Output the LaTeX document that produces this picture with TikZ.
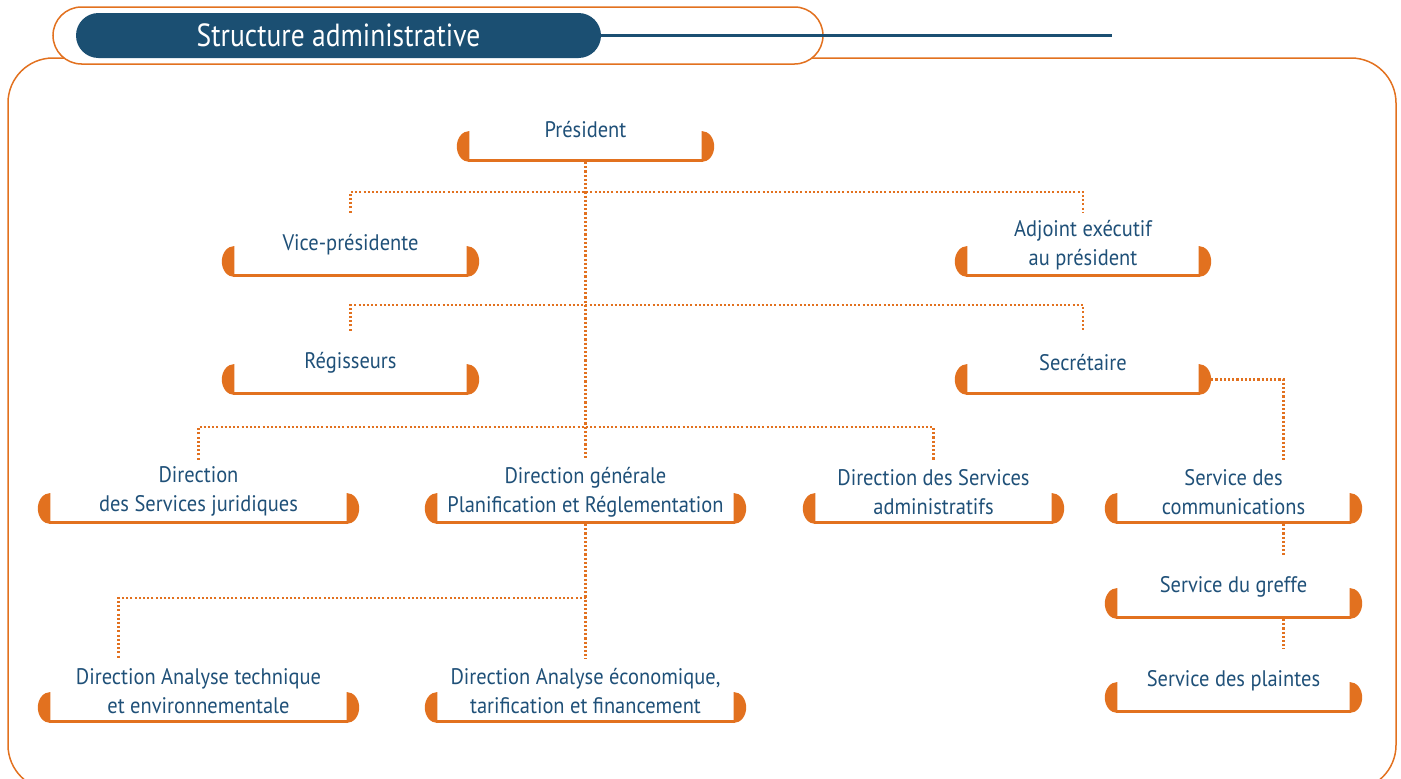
\documentclass[tikz,border=0pt]{standalone}
\usepackage{fontspec}
\setmainfont{PT Sans}[FakeStretch=0.91]
\newfontfamily\titlefont{PT Sans}[FakeStretch=0.86]
\usetikzlibrary{calc}
\definecolor{navy}{HTML}{1B4F72}
\definecolor{navytext}{HTML}{1F5078}
\definecolor{orgorange}{HTML}{E2711F}
\tikzset{
  orgbox/.style={minimum height=64pt, inner sep=0pt, anchor=south, align=center,
    text=navytext, font=\fontsize{22.5}{29}\selectfont},
  conn/.style={orgorange, line width=2.1pt, dash pattern=on 2.1pt off 2.1pt},
  capline/.style={orgorange, line width=3pt},
  frameline/.style={orgorange, line width=1.5pt},
}
\newcommand\orgnode[5]{%
  \pgfmathsetmacro\cx{(#2+#3)/2}%
  \pgfmathsetmacro\bw{#3-#2}%
  \node[orgbox, minimum width=\bw pt] (#1) at (\cx,-#4) {#5};%
}
\begin{document}
\begin{tikzpicture}[x=1pt,y=1pt]
\useasboundingbox (0,0) rectangle (1401,-779);
\clip (0,0) rectangle (1401,-779);
% frame
\draw[frameline, rounded corners=45pt] (8,-58) rectangle (1396,-790);
% title tab
\draw[frameline, fill=white, rounded corners=28.5pt] (53,-7) rectangle (823,-64);
\coordinate (lineend) at (1112,-35.5);
\node[fill=navy, rounded corners=22.5pt, minimum width=525pt, minimum height=45pt, inner sep=0pt,
  text=white, font=\titlefont\fontsize{32}{36}\selectfont] (title) at (338.5,-35.5) {Structure administrative};
\draw[navy, line width=2.5pt] (title.east) -- (lineend);

% boxes
\orgnode{pres}{457}{714}{162}{Président}
\orgnode{vp}{222}{479}{277}{Vice-présidente}
\orgnode{adj}{955}{1211}{277}{Adjoint exécutif\\au président}
\orgnode{reg}{222}{479}{395}{Régisseurs}
\orgnode{sec}{955}{1211}{395}{Secrétaire}
\orgnode{dsj}{38}{359}{524}{Direction\\des Services juridiques}
\orgnode{dgpr}{425}{746}{524}{Direction générale\\Planification et Réglementation}
\orgnode{dsa}{803}{1064}{524}{Direction des Services\\administratifs}
\orgnode{scom}{1105}{1362}{524}{Service des\\communications}
\orgnode{sgre}{1105}{1362}{619}{Service du greffe}
\orgnode{spla}{1105}{1362}{713}{Service des plaintes}
\orgnode{dat}{38}{359}{723}{Direction Analyse technique\\et environnementale}
\orgnode{dae}{425}{746}{723}{Direction Analyse économique,\\tarification et financement}

\foreach \n in {pres,vp,adj,reg,sec,dsj,dgpr,dsa,scom,sgre,spla,dat,dae}{
  \fill[orgorange] ([shift={(12.5pt,31pt)}]\n.south west) arc[start angle=90,end angle=270,x radius=12.5pt,y radius=15.5pt] -- cycle;
  \fill[orgorange] ([shift={(-12.5pt,31pt)}]\n.south east) arc[start angle=90,end angle=-90,x radius=12.5pt,y radius=15.5pt] -- cycle;
  \draw[capline] ([shift={(11pt,1.5pt)}]\n.south west) -- ([shift={(-11pt,1.5pt)}]\n.south east);
}

% connectors
\coordinate (j1) at (586,-192);
\coordinate (j2) at (586,-305);
\coordinate (j3) at (586,-427);
\coordinate (j4) at (586,-598);
\draw[conn] (pres.south) -- (dgpr.north);
\draw[conn] (vp.north) -- (vp.north |- j1) -- (adj.north |- j1) -- (adj.north);
\draw[conn] (reg.north) -- (reg.north |- j2) -- (sec.north |- j2) -- (sec.north);
\draw[conn] (dsj.north) -- (dsj.north |- j3) -- (dsa.north |- j3) -- (dsa.north);
\draw[conn] ([yshift=15.5pt]sec.south east) -| ([xshift=50pt]scom.north);
\draw[conn] ([xshift=50pt]scom.south) -- ([xshift=50pt]sgre.north);
\draw[conn] ([xshift=50pt]sgre.south) -- ([xshift=50pt]spla.north);
\draw[conn] (dgpr.south) -- (dae.north);
\draw[conn] (j4) -- ([xshift=-80pt]dat.north |- j4) -- ([xshift=-80pt]dat.north);
\end{tikzpicture}
\end{document}
